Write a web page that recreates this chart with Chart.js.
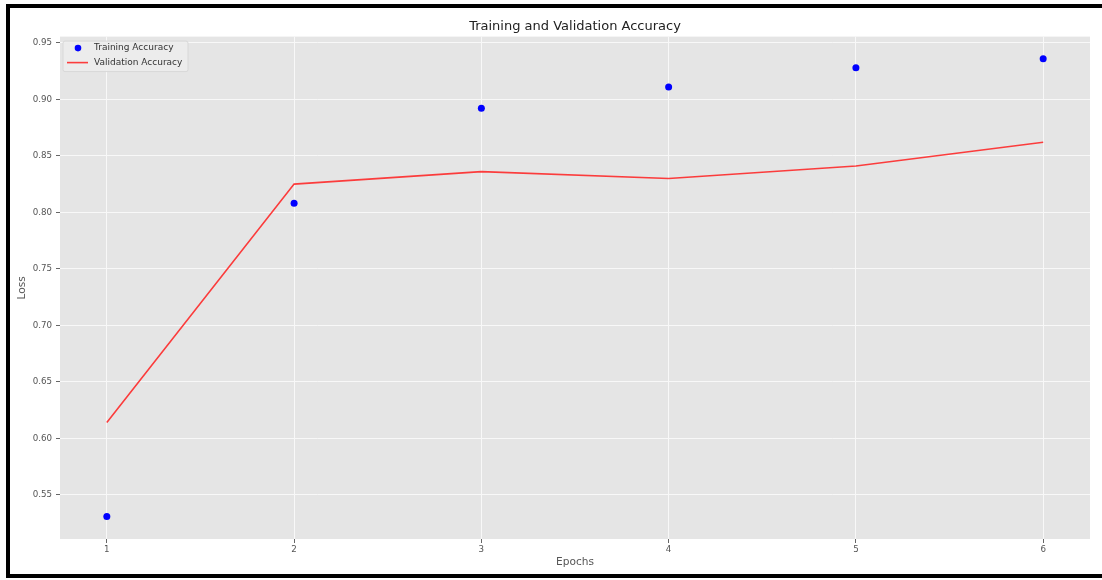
<!DOCTYPE html>
<html>
<head>
<meta charset="utf-8">
<script src="https://cdn.jsdelivr.net/npm/chart.js@4"></script>
<style>
  html, body { margin: 0; padding: 0; background: #fff; overflow: hidden; }
  #wrap { position: relative; width: 1102px; height: 580px; }
</style>
</head>
<body>
<div id="wrap">
  <canvas id="chart"></canvas>
</div>
<script>
// Data
var epochs       = [1, 2, 3, 4, 5, 6];
var trainAcc     = [0.531, 0.808, 0.892, 0.911, 0.928, 0.936];
var valAcc       = [0.614, 0.825, 0.836, 0.830, 0.841, 0.862];
var yTicks       = [0.55, 0.60, 0.65, 0.70, 0.75, 0.80, 0.85, 0.90, 0.95];
var seriesLabels = ['Training Accuracy', 'Validation Accuracy'];

var FONT = '"DejaVu Sans", sans-serif';

// gray plot background, like ggplot style
var plotBg = {
  id: 'plotBg',
  beforeDraw: function(chart) {
    var a = chart.chartArea, ctx = chart.ctx;
    ctx.save();
    ctx.fillStyle = '#E5E5E5';
    ctx.fillRect(a.left, a.top, a.right - a.left, a.bottom - a.top);
    ctx.restore();
  }
};

// black frame of the screenshot: left, top and bottom only
var frame = {
  id: 'frame',
  afterDraw: function(chart) {
    var ctx = chart.ctx, w = chart.width;
    ctx.save();
    ctx.fillStyle = '#000';
    ctx.fillRect(6, 4, w - 6, 4);
    ctx.fillRect(6, 574, w - 6, 4);
    ctx.fillRect(6, 4, 4, 574);
    ctx.restore();
  }
};

// legend box drawn in the upper left corner of the plot
var innerLegend = {
  id: 'innerLegend',
  afterDraw: function(chart) {
    var a = chart.chartArea, ctx = chart.ctx;
    var x = a.left + 3, y = a.top + 4.5, w = 125, h = 30.5;
    ctx.save();
    ctx.fillStyle = 'rgba(236,236,236,0.9)';
    ctx.strokeStyle = '#D8D8D8';
    ctx.lineWidth = 1;
    ctx.beginPath();
    ctx.roundRect(x, y, w, h, 2);
    ctx.fill();
    ctx.stroke();

    var ds = chart.data.datasets;
    // training marker
    ctx.fillStyle = ds[0].pointBackgroundColor;
    ctx.beginPath();
    ctx.arc(x + 15, y + 7, 3.3, 0, Math.PI * 2);
    ctx.fill();
    // validation line
    ctx.strokeStyle = ds[1].borderColor;
    ctx.lineWidth = 1.6;
    ctx.beginPath();
    ctx.moveTo(x + 4, y + 21.5);
    ctx.lineTo(x + 25, y + 21.5);
    ctx.stroke();

    ctx.fillStyle = '#333';
    ctx.font = '9px ' + FONT;
    ctx.textBaseline = 'middle';
    ctx.fillText(ds[0].label, x + 31, y + 7);
    ctx.fillText(ds[1].label, x + 31, y + 21.5);
    ctx.restore();
  }
};

new Chart(document.getElementById('chart').getContext('2d'), {
  type: 'scatter',
  data: {
    datasets: [
      {
        label: seriesLabels[0],
        data: epochs.map(function(e, i) { return { x: e, y: trainAcc[i] }; }),
        showLine: false,
        pointRadius: 3.5,
        pointBackgroundColor: '#0000FF',
        pointBorderWidth: 0,
        order: 1
      },
      {
        label: seriesLabels[1],
        data: epochs.map(function(e, i) { return { x: e, y: valAcc[i] }; }),
        showLine: true,
        borderColor: 'rgba(255,30,30,0.85)',
        borderWidth: 1.6,
        pointRadius: 0,
        tension: 0,
        order: 2
      }
    ]
  },
  options: {
    responsive: true,
    maintainAspectRatio: false,
    animation: false,
    layout: { padding: { left: 0, right: 12, top: 0, bottom: 0 } },
    plugins: {
      legend: { display: false },
      tooltip: { enabled: false },
      title: {
        display: true,
        text: 'Training and Validation Accuracy',
        fullSize: false,
        color: '#222',
        font: { family: FONT, size: 13, weight: 'normal' },
        padding: { top: 18.5, bottom: 2.5 }
      }
    },
    scales: {
      x: {
        type: 'linear',
        min: 0.75,
        max: 6.25,
        afterBuildTicks: function(s) { s.ticks = epochs.map(function(v) { return { value: v }; }); },
        afterFit: function(s) { s.height = 41; },
        grid: { color: '#F8F8F8', lineWidth: 1, tickColor: '#666', tickLength: 4, drawTicks: true },
        border: { display: false },
        ticks: {
          color: '#555', padding: 2, maxRotation: 0,
          font: { family: FONT, size: 8.7 },
          callback: function(v) { return String(v); }
        },
        title: {
          display: true, text: 'Epochs', color: '#555',
          font: { family: FONT, size: 10.6 },
          padding: { top: 0, bottom: 11 }
        }
      },
      y: {
        type: 'linear',
        min: 0.511,
        max: 0.9555,
        afterBuildTicks: function(s) { s.ticks = yTicks.map(function(v) { return { value: v }; }); },
        afterFit: function(s) { s.width = 60; },
        grid: { color: '#F8F8F8', lineWidth: 1, tickColor: '#666', tickLength: 4, drawTicks: true },
        border: { display: false },
        ticks: {
          color: '#555', padding: 4,
          font: { family: FONT, size: 8.7 },
          callback: function(v) { return v.toFixed(2); }
        },
        title: {
          display: true, text: 'Loss', color: '#555',
          font: { family: FONT, size: 10.6 },
          padding: { top: 16, bottom: 0 }
        }
      }
    }
  },
  plugins: [plotBg, innerLegend, frame]
});
</script>
</body>
</html>
